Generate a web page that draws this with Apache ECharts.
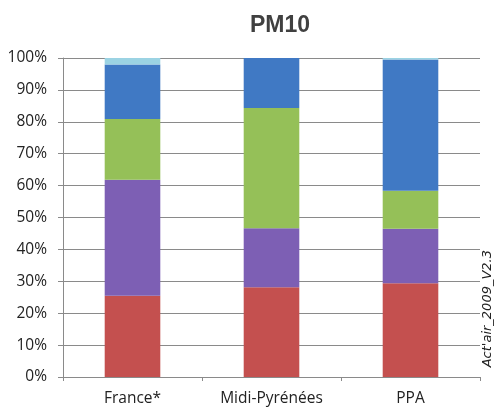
<!DOCTYPE html>
<html><head><meta charset="utf-8">
<script src="https://cdn.jsdelivr.net/npm/echarts@6/dist/echarts.min.js"></script>
<style>html,body{margin:0;padding:0;background:#fff}#c{width:500px;height:410px}</style>
</head><body><div id="c"></div>
<script>
const categories = ['France*', 'Midi-Pyrénées', 'PPA'];
const seriesRed = [25.5, 28.1, 29.4];
const seriesPurple = [36.3, 18.5, 17.1];
const seriesGreen = [19.1, 37.7, 11.9];
const seriesBlue = [17.1, 15.7, 41.1];
const seriesLightBlue = [2.0, 0, 0.5];
const yTicks = [0, 10, 20, 30, 40, 50, 60, 70, 80, 90, 100];
const colors = ['#C4504F', '#7D5FB4', '#95C058', '#4079C4', '#9BD3E3'];
const dataSets = [seriesRed, seriesPurple, seriesGreen, seriesBlue, seriesLightBlue];
const chart = echarts.init(document.getElementById('c'));
chart.setOption({
  animation: false,
  title: { text: 'PM10', left: 275, top: 9, textAlign: 'center',
    textStyle: { fontFamily: 'Liberation Sans', fontWeight: 'bold', fontSize: 23, color: '#404040' } },
  grid: { left: 63, right: 20, top: 58, bottom: 33 },
  xAxis: { type: 'category', data: categories,
    axisLine: { lineStyle: { color: '#8a8a8a' } },
    axisTick: { show: true, length: 4, lineStyle: { color: '#8a8a8a' } },
    axisLabel: { fontFamily: 'Open Sans', fontSize: 15.5, color: '#222', margin: 14 } },
  yAxis: { type: 'value', min: 0, max: 100, interval: 10,
    axisLine: { show: true, lineStyle: { color: '#8a8a8a' } },
    axisTick: { show: true, length: 5, lineStyle: { color: '#8a8a8a' } },
    splitLine: { lineStyle: { color: '#8a8a8a', width: 1 } },
    axisLabel: { fontFamily: 'Open Sans', fontSize: 15.5, color: '#222', margin: 16, padding: [4, 0, 0, 0],
      formatter: v => yTicks.includes(v) ? v + '%' : '' } },
  series: dataSets.map((d, i) => ({ type: 'bar', stack: 'a', data: d, barWidth: '40%',
    itemStyle: { color: colors[i] } })),
  graphic: [{ type: 'text', left: 481, top: 250, rotation: Math.PI / 2,
    style: { text: "Act'air_2009_V2.3", font: 'italic 13px DejaVu Sans', fill: '#222' } }]
});
</script></body></html>
